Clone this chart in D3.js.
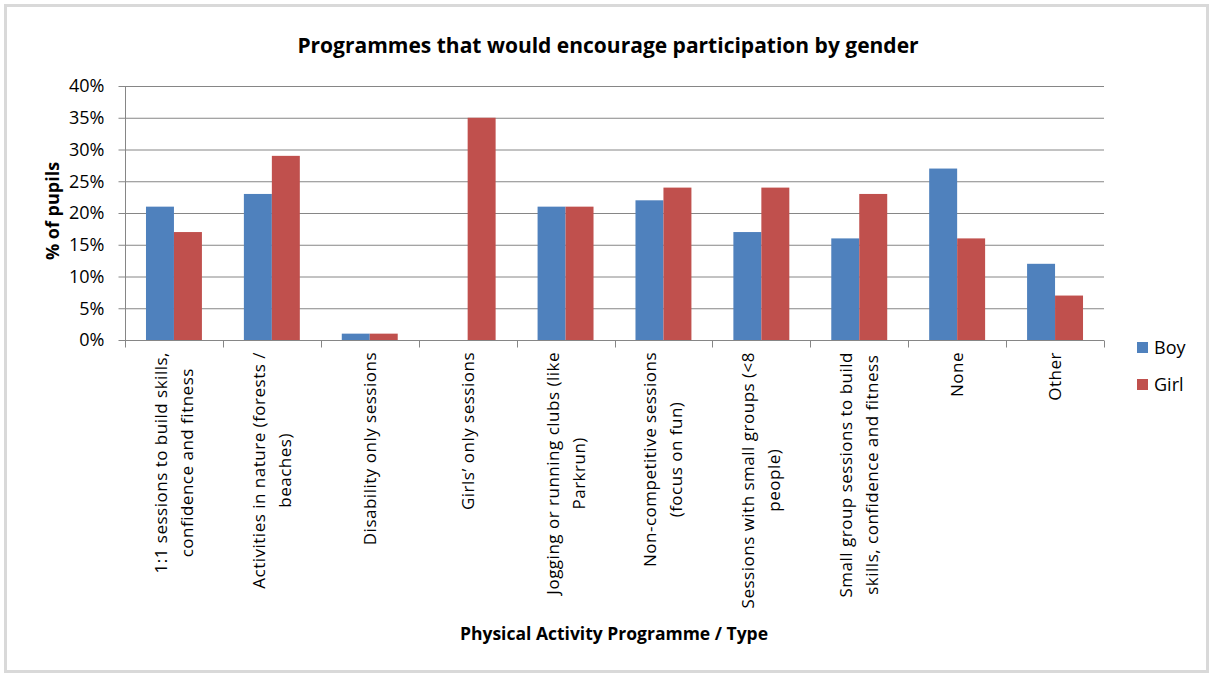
<!DOCTYPE html>
<html><head><meta charset="utf-8">
<script src="https://cdn.jsdelivr.net/npm/d3@7"></script>
<style>
html,body{margin:0;padding:0;background:#fff;}
text{font-family:"Open Sans",Lato,sans-serif;fill:#000;}
</style></head>
<body>
<svg id="chart" width="1211" height="675"></svg>
<script>
const categories = [
  ["1:1 sessions to build skills,", "confidence and fitness"],
  ["Activities in nature (forests /", "beaches)"],
  ["Disability only sessions"],
  ["Girls’ only sessions"],
  ["Jogging or running clubs (like", "Parkrun)"],
  ["Non-competitive sessions", "(focus on fun)"],
  ["Sessions with small groups (<8", "people)"],
  ["Small group sessions to build", "skills, confidence and fitness"],
  ["None"],
  ["Other"]
];
const boy  = [21, 23, 1, 0, 21, 22, 17, 16, 27, 12];
const girl = [17, 29, 1, 35, 21, 24, 24, 23, 16, 7];
const seriesNames = ["Boy", "Girl"];
const yTicks = [0, 5, 10, 15, 20, 25, 30, 35, 40];
const title = "Programmes that would encourage participation by gender";
const yTitle = "% of pupils";
const xTitle = "Physical Activity Programme / Type";

const colors = ["#4F81BD", "#C0504D"];
const svg = d3.select("#chart");
const W = 1211, H = 675;
const plot = {left: 125, right: 1104, top: 86, bottom: 340};

svg.append("rect").attr("x", 5.5).attr("y", 5.5).attr("width", W - 9).attr("height", H - 9)
  .attr("fill", "#fff").attr("stroke", "#d9d9d9").attr("stroke-width", 3);

const idx = d3.range(categories.length);
const x = d3.scaleBand().domain(idx).range([plot.left, plot.right]).paddingInner(0).paddingOuter(0);
const y = d3.scaleLinear().domain([0, 40]).range([plot.bottom, plot.top]);
const barW = x.bandwidth() / 3.5;
const x1 = d3.scaleBand().domain([0, 1]).range([(x.bandwidth() - 2 * barW) / 2, (x.bandwidth() + 2 * barW) / 2]);

const yAxis = d3.axisLeft(y).tickValues(yTicks).tickFormat(d => d + "%").tickSize(7).tickPadding(14);
svg.append("g").selectAll("line").data(yTicks.filter(d => d > 0)).join("line")
  .attr("x1", plot.left).attr("x2", plot.right)
  .attr("y1", d => y(d) + 0.5).attr("y2", d => y(d) + 0.5)
  .attr("stroke", "#868686").attr("stroke-width", 1);

const data = [boy, girl];
const g = svg.append("g");
data.forEach((vals, s) => {
  g.selectAll(".b" + s).data(vals).join("rect")
    .attr("x", (d, i) => x(i) + x1(s))
    .attr("y", d => y(d))
    .attr("width", x1.bandwidth())
    .attr("height", d => y(0) - y(d))
    .attr("fill", colors[s]);
});

const ya = svg.append("g").attr("transform", `translate(${plot.left + 0.5},0)`).call(yAxis);
ya.select(".domain").attr("stroke", "#868686").attr("d", `M0,${plot.top}V${plot.bottom}`);
ya.selectAll(".tick line").attr("stroke", "#868686");
ya.selectAll(".tick text").style("font-size", "18px").attr("fill", "#000");

const xa = svg.append("g").attr("transform", `translate(0,${plot.bottom + 0.5})`);
xa.append("line").attr("x1", plot.left).attr("x2", plot.right).attr("stroke", "#868686");
const bounds = idx.map(i => x(i)).concat([plot.right]);
xa.selectAll(".xt").data(bounds).join("line")
  .attr("x1", d => Math.round(d) + 0.5).attr("x2", d => Math.round(d) + 0.5)
  .attr("y1", 0).attr("y2", 7).attr("stroke", "#868686");

const lineGap = 26;
const topY = plot.bottom + 12;
idx.forEach(i => {
  const lines = categories[i];
  const cx = x(i) + x.bandwidth() / 2;
  const n = lines.length;
  const nodes = lines.map((t, k) => {
    const lx = cx + (k - (n - 1) / 2) * lineGap + 6;
    return svg.append("text")
      .attr("text-anchor", n > 1 ? "middle" : "end")
      .style("font-size", "17px")
      .style("letter-spacing", "0.5px")
      .attr("data-x", lx)
      .text(t).node();
  });
  const maxLen = d3.max(nodes, nd => nd.getComputedTextLength());
  nodes.forEach(nd => {
    const lx = +nd.getAttribute("data-x");
    const ty = n > 1 ? topY + maxLen / 2 : topY;
    nd.setAttribute("transform", `translate(${lx},${ty}) rotate(-90)`);
  });
});

svg.append("text").attr("x", 608).attr("y", 53).attr("text-anchor", "middle")
  .style("font-size", "21px").style("font-weight", "bold").text(title);
svg.append("text").attr("transform", `translate(59,${(plot.top + plot.bottom) / 2 - 2}) rotate(-90)`)
  .attr("text-anchor", "middle").style("font-size", "18px").style("font-weight", "bold").text(yTitle);
svg.append("text").attr("x", 614).attr("y", 640).attr("text-anchor", "middle")
  .style("font-size", "17.5px").style("font-weight", "bold").text(xTitle);

const leg = svg.append("g").attr("transform", "translate(1137,342)");
seriesNames.forEach((n, s) => {
  leg.append("rect").attr("x", 0).attr("y", s * 37).attr("width", 11).attr("height", 11).attr("fill", colors[s]);
  leg.append("text").attr("x", 17).attr("y", s * 37 + 12).style("font-size", "18px").text(n);
});
</script>
</body></html>
